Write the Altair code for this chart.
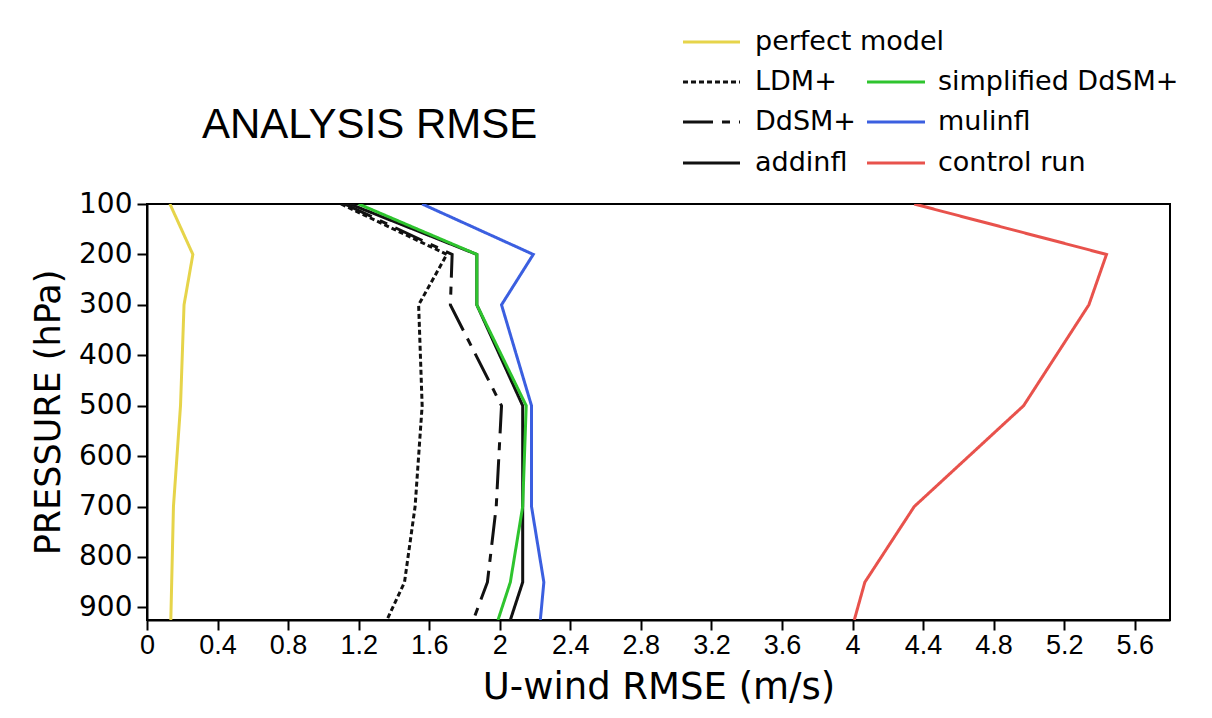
import altair as alt
import pandas as pd

pressure = [100, 200, 300, 500, 700, 850, 925]
perfect_model = [0.13, 0.26, 0.21, 0.19, 0.15, 0.14, 0.135]
ldm_plus = [1.10, 1.70, 1.54, 1.56, 1.52, 1.46, 1.36]
ddsm_plus = [1.12, 1.73, 1.72, 2.01, 1.98, 1.93, 1.85]
addinfl = [1.15, 1.87, 1.87, 2.13, 2.13, 2.13, 2.06]
simplified_ddsm = [1.20, 1.87, 1.87, 2.15, 2.13, 2.06, 1.99]
mulinfl = [1.56, 2.19, 2.01, 2.18, 2.18, 2.25, 2.23]
control_run = [4.35, 5.44, 5.34, 4.97, 4.35, 4.07, 4.01]

series_names = ["LDM+", "DdSM+", "addinfl", "simplified DdSM+", "mulinfl",
                "control run", "perfect model"]
series_values = [ldm_plus, ddsm_plus, addinfl, simplified_ddsm, mulinfl,
                 control_run, perfect_model]
series_colors = ["#111111", "#111111", "#111111", "#2ec42e", "#3b5fe0",
                 "#e8524c", "#e6d44a"]
series_dash = [[5, 3], [30, 9, 8, 9], [1, 0], [1, 0], [1, 0], [1, 0], [1, 0]]

x_ticks = [0, 0.4, 0.8, 1.2, 1.6, 2, 2.4, 2.8, 3.2, 3.6, 4, 4.4, 4.8, 5.2, 5.6]
y_ticks = [100, 200, 300, 400, 500, 600, 700, 800, 900]

rows = []
for name, vals in zip(series_names, series_values):
    for p, v in zip(pressure, vals):
        rows.append({"series": name, "pressure": p, "rmse": v})
df = pd.DataFrame(rows)

W, H = 1023, 416

lines = alt.Chart(df).mark_line(strokeWidth=3, clip=True).encode(
    x=alt.X("rmse:Q",
            scale=alt.Scale(domain=[0, 5.8], nice=False, zero=False),
            axis=alt.Axis(values=x_ticks, format=".1~f", title="U-wind RMSE (m/s)",
                          labelFont="Liberation Sans", labelFontSize=27,
                          labelPadding=2, labelFlush=False,
                          titleFont="DejaVu Sans", titleFontSize=37,
                          titleFontWeight="normal", titleY=78,
                          titleBaseline="alphabetic", grid=False)),
    y=alt.Y("pressure:Q",
            scale=alt.Scale(domain=[100, 925], reverse=True, nice=False, zero=False),
            axis=alt.Axis(values=y_ticks, format="d", title="PRESSURE (hPa)",
                          labelFont="DejaVu Sans", labelFontSize=28,
                          labelPadding=5, labelFlush=False,
                          titleFont="DejaVu Sans", titleFontSize=35,
                          titleFontWeight="normal", titleX=-99, titleY=H / 2,
                          titleAngle=270, titleAlign="center",
                          titleBaseline="middle", grid=False)),
    color=alt.Color("series:N", scale=alt.Scale(domain=series_names, range=series_colors),
                    legend=None),
    strokeDash=alt.StrokeDash("series:N",
                              scale=alt.Scale(domain=series_names, range=series_dash),
                              legend=None),
    detail="series:N",
    order="pressure:Q",
)

layers = [lines]

# manual legend (two columns, like the original)
legend_layout = [
    ("perfect model", 0, 0),
    ("LDM+", 0, 1),
    ("DdSM+", 0, 2),
    ("addinfl", 0, 3),
    ("simplified DdSM+", 1, 1),
    ("mulinfl", 1, 2),
    ("control run", 1, 3),
]
col_x = [(536, 593, 608), (720, 778, 791)]
row_y = [-162, -122, -82, -41]
anchor = pd.DataFrame({"a": [0]})
for name, c, r in legend_layout:
    i = series_names.index(name)
    x1, x2, tx = col_x[c]
    y = row_y[r]
    layers.append(
        alt.Chart(anchor).mark_rule(strokeWidth=3, color=series_colors[i],
                                    strokeDash=series_dash[i]).encode(
            x=alt.value(x1), x2=alt.value(x2), y=alt.value(y))
    )
    layers.append(
        alt.Chart(anchor).mark_text(text=name, font="DejaVu Sans", fontSize=27,
                                    align="left", baseline="middle",
                                    color="black").encode(
            x=alt.value(tx), y=alt.value(y))
    )

layers.append(
    alt.Chart(anchor).mark_text(text="ANALYSIS RMSE", font="Liberation Sans",
                                fontSize=42, align="left", baseline="alphabetic",
                                color="black").encode(
        x=alt.value(55), y=alt.value(-66))
)

chart = alt.layer(*layers).properties(
    width=W, height=H,
    autosize=alt.AutoSizeParams(type="none"),
    padding={"left": 139, "top": 196, "right": 34, "bottom": 90},
    background="white",
).configure_view(
    stroke="black", strokeWidth=2
).configure_axis(
    domainColor="black", domainWidth=2, tickColor="black", tickWidth=2,
    tickSize=10, labelColor="black", titleColor="black"
)

chart.save("out.html", embed_options={"renderer": "svg", "actions": False})
